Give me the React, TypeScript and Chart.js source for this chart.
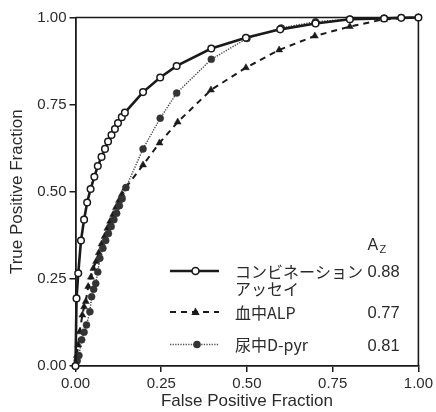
import React, { useEffect, useRef } from 'react';
import { Chart, registerables } from 'chart.js';

Chart.register(...registerables);

// Combination assay (open circles, solid)
const comboX = [0, 0.003, 0.008, 0.016, 0.025, 0.034, 0.044, 0.055, 0.065, 0.076, 0.086, 0.095, 0.105, 0.115, 0.124, 0.135, 0.144, 0.197, 0.247, 0.295, 0.396, 0.497, 0.597, 0.70, 0.80, 0.90, 0.95, 1.0];
const comboY = [0, 0.194, 0.266, 0.36, 0.42, 0.469, 0.508, 0.543, 0.574, 0.6, 0.623, 0.644, 0.663, 0.68, 0.697, 0.714, 0.727, 0.786, 0.828, 0.861, 0.911, 0.942, 0.966, 0.983, 0.995, 0.997, 0.999, 1.0];

// Serum ALP (filled triangles, dashed)
const alpX = [0, 0.004, 0.008, 0.012, 0.02, 0.025, 0.03, 0.037, 0.045, 0.052, 0.06, 0.068, 0.076, 0.085, 0.093, 0.101, 0.11, 0.118, 0.127, 0.135, 0.145, 0.197, 0.245, 0.298, 0.395, 0.497, 0.594, 0.698, 0.80, 0.90, 1.0];
const alpY = [0, 0.03, 0.06, 0.098, 0.146, 0.17, 0.185, 0.228, 0.255, 0.28, 0.30, 0.325, 0.35, 0.372, 0.395, 0.415, 0.435, 0.455, 0.475, 0.492, 0.51, 0.577, 0.64, 0.70, 0.792, 0.856, 0.907, 0.947, 0.974, 0.995, 1.0];

// Urine D-pyr (filled circles, dotted)
const dpyrX = [0, 0.005, 0.01, 0.018, 0.025, 0.032, 0.042, 0.047, 0.053, 0.059, 0.065, 0.071, 0.08, 0.088, 0.096, 0.104, 0.112, 0.12, 0.128, 0.136, 0.147, 0.197, 0.247, 0.295, 0.396, 0.5, 0.6, 0.7, 0.8, 0.9, 1.0];
const dpyrY = [0, 0.015, 0.03, 0.075, 0.097, 0.118, 0.156, 0.199, 0.22, 0.237, 0.27, 0.309, 0.338, 0.36, 0.38, 0.40, 0.42, 0.438, 0.46, 0.48, 0.512, 0.623, 0.711, 0.783, 0.88, 0.94, 0.97, 0.988, 0.995, 0.998, 1.0];

const tickValues = [0, 0.25, 0.5, 0.75, 1.0];
const xTitle = 'False Positive Fraction';
const yTitle = 'True Positive Fraction';
const legendNames = [['コンビネーション', 'アッセイ'], ['血中ALP'], ['尿中D-pyr']];
const azValues = ['0.88', '0.77', '0.81'];

const FONT = "'Liberation Sans', Arial, 'Noto Sans CJK JP', sans-serif";
const JFONT = "'Noto Sans CJK JP', 'Liberation Sans', sans-serif";
const INK = '#1a1a1a';
const TEXT = '#2a2a2a';

const toPts = (xs: number[], ys: number[]) => xs.map((x, i) => ({ x, y: ys[i] }));

const frame = {
  id: 'frame',
  beforeDatasetsDraw(chart: any) {
    const { ctx, chartArea: a } = chart;
    ctx.save();
    ctx.strokeStyle = INK;
    ctx.lineWidth = 1.6;
    ctx.beginPath();
    ctx.moveTo(a.left, a.top);
    ctx.lineTo(a.right, a.top);
    ctx.lineTo(a.right, a.bottom);
    ctx.stroke();
    ctx.restore();
  },
};

const legendPlugin = {
  id: 'customLegend',
  afterDraw(chart: any) {
    const { ctx, chartArea: a } = chart;
    const L = a.left;
    const T = a.top;
    ctx.save();
    // A_Z header
    ctx.fillStyle = TEXT;
    ctx.textBaseline = 'alphabetic';
    ctx.textAlign = 'left';
    ctx.font = `16px ${FONT}`;
    ctx.fillText('A', L + 292, T + 232.5);
    ctx.font = `11px ${FONT}`;
    ctx.fillText('Z', L + 304, T + 235);

    const rows = [
      { y: T + 253.5, style: 'combo' },
      { y: T + 294.5, style: 'alp' },
      { y: T + 327, style: 'dpyr' },
    ];
    const x0 = L + 94.5;
    const x1 = L + 143.5;
    const mx = L + 120;
    rows.forEach((r, i) => {
      ctx.save();
      ctx.strokeStyle = INK;
      if (r.style === 'combo') {
        ctx.lineWidth = 2.6;
        ctx.setLineDash([]);
      } else if (r.style === 'alp') {
        ctx.lineWidth = 2;
        ctx.setLineDash([6, 5]);
      } else {
        ctx.lineWidth = 1.4;
        ctx.strokeStyle = '#555';
        ctx.setLineDash([1.3, 1.3]);
      }
      ctx.beginPath();
      ctx.moveTo(x0, r.y);
      ctx.lineTo(x1, r.y);
      ctx.stroke();
      ctx.setLineDash([]);
      if (r.style === 'combo') {
        ctx.beginPath();
        ctx.arc(mx, r.y, 3.5, 0, Math.PI * 2);
        ctx.fillStyle = '#fff';
        ctx.fill();
        ctx.lineWidth = 1.6;
        ctx.strokeStyle = INK;
        ctx.stroke();
      } else if (r.style === 'alp') {
        ctx.beginPath();
        ctx.moveTo(mx, r.y - 4.5);
        ctx.lineTo(mx + 4.2, r.y + 3);
        ctx.lineTo(mx - 4.2, r.y + 3);
        ctx.closePath();
        ctx.fillStyle = INK;
        ctx.fill();
      } else {
        ctx.beginPath();
        ctx.arc(mx + 1.5, r.y, 3.8, 0, Math.PI * 2);
        ctx.fillStyle = '#333';
        ctx.fill();
      }
      ctx.restore();

      ctx.fillStyle = TEXT;
      ctx.textBaseline = 'middle';
      ctx.textAlign = 'left';
      const names = legendNames[i];
      names.forEach((n, j) => {
        ctx.font = `16px ${JFONT}`;
        ctx.fillText(n, L + 159.5, r.y + j * 17.5 + 0.5);
      });
      ctx.font = `16.5px ${FONT}`;
      ctx.fillText(azValues[i], L + 292, r.y + 1.5);
    });
    ctx.restore();
  },
};

export default function App() {
  const ref = useRef<HTMLCanvasElement | null>(null);
  useEffect(() => {
    if (!ref.current) return;
    const tickCb = (v: any) => Number(v).toFixed(2);
    const scaleBase = (title: string, tpad: number) => ({
      type: 'linear' as const,
      min: 0,
      max: 1,
      afterBuildTicks: (s: any) => {
        s.ticks = tickValues.map((v) => ({ value: v }));
      },
      ticks: {
        callback: tickCb,
        color: TEXT,
        font: { family: FONT, size: 15 },
        padding: 3,
        maxRotation: 0,
        autoSkip: false,
      },
      grid: {
        drawOnChartArea: false,
        drawTicks: true,
        tickLength: 6,
        color: INK,
        lineWidth: 1.5,
      },
      border: { display: true, color: INK, width: 1.8 },
      title: {
        display: true,
        text: title,
        color: TEXT,
        font: { family: FONT, size: 17 },
        padding: { top: tpad, bottom: 0 },
      },
    });
    const chart = new Chart(ref.current, {
      type: 'scatter',
      data: {
        datasets: [
          {
            label: 'combo',
            data: toPts(comboX, comboY),
            showLine: true,
            borderColor: INK,
            borderWidth: 2.6,
            pointStyle: 'circle',
            pointRadius: 3.3,
            pointBorderWidth: 1.5,
            pointBackgroundColor: '#fff',
            pointBorderColor: INK,
            order: 0,
            clip: false,
          } as any,
          {
            label: 'alp',
            data: toPts(alpX, alpY),
            showLine: true,
            borderColor: INK,
            borderWidth: 2,
            borderDash: [6, 5],
            pointStyle: 'triangle',
            pointRadius: 4,
            pointBorderWidth: 0.5,
            pointBackgroundColor: INK,
            pointBorderColor: INK,
            order: 2,
            clip: false,
          } as any,
          {
            label: 'dpyr',
            data: toPts(dpyrX, dpyrY),
            showLine: true,
            borderColor: '#444',
            borderWidth: 1.4,
            borderDash: [1.3, 1.3],
            pointStyle: 'circle',
            pointRadius: 3.5,
            pointBorderWidth: 0.5,
            pointBackgroundColor: '#333',
            pointBorderColor: '#333',
            order: 1,
            clip: false,
          } as any,
        ],
      },
      options: {
        responsive: false,
        animation: false,
        layout: { padding: { left: 0, top: 17.5, right: 16, bottom: 0 } },
        plugins: {
          legend: { display: false },
          tooltip: { enabled: false },
        },
        scales: {
          x: {
            ...scaleBase(xTitle, 0),
            afterFit: (s: any) => {
              s.height = 46;
            },
          },
          y: {
            ...scaleBase(yTitle, 7),
            afterFit: (s: any) => {
              s.width = 75.5;
            },
          },
        } as any,
      },
      plugins: [frame, legendPlugin],
    });
    return () => chart.destroy();
  }, []);
  return (
    <div style={{ position: 'fixed', left: 0, top: 0, width: 436, height: 412, background: '#fff' }}>
      <canvas ref={ref} width={436} height={412} style={{ display: 'block' }} />
    </div>
  );
}
